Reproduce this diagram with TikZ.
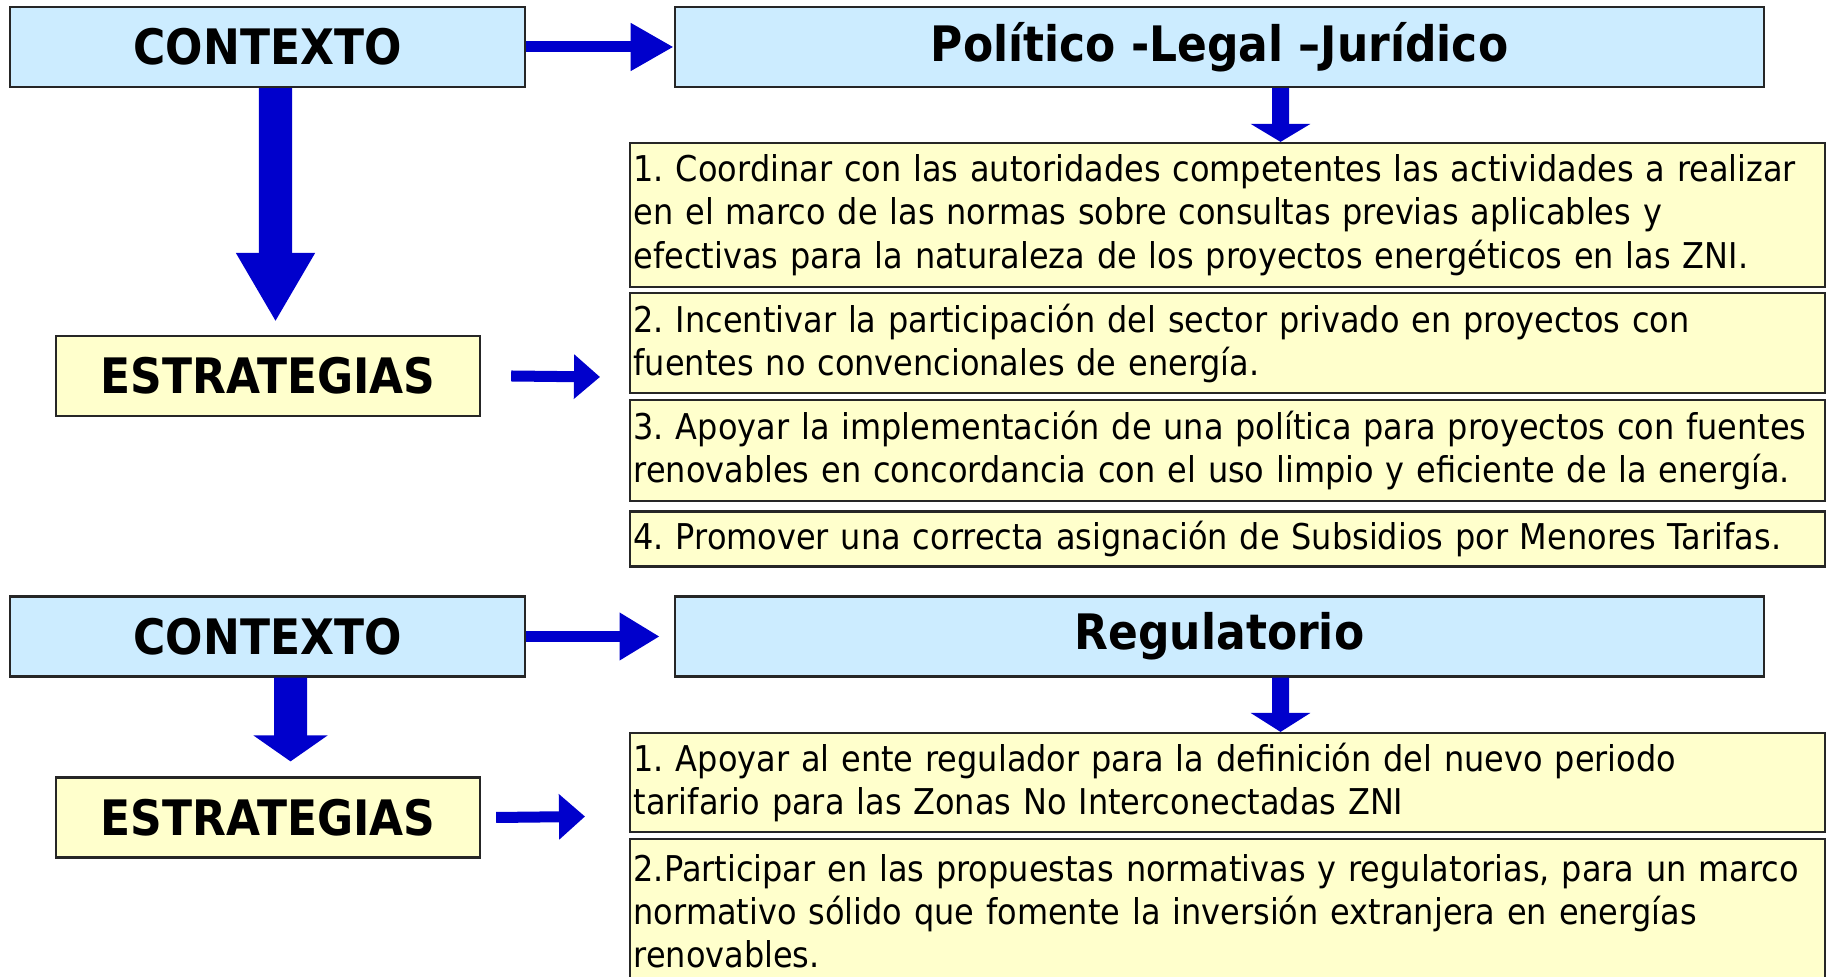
\documentclass[tikz,border=0pt]{standalone}
\usepackage{fontspec}
\setmainfont{DejaVu Sans}[FakeStretch=0.9]
\usepackage{xcolor}
\usetikzlibrary{arrows.meta,positioning,calc}
\definecolor{ctxblue}{HTML}{CCECFF}
\definecolor{stratyellow}{HTML}{FFFFCC}
\definecolor{arrowblue}{HTML}{0000CC}
\newcommand{\ItemFont}{\fontsize{10.1}{12.3}\selectfont\frenchspacing}
\newcommand{\HeadFont}{\fontsize{13.9}{15}\selectfont\bfseries}

\begin{document}
\begin{tikzpicture}[
			x=0.01cm, y=-0.01cm,
			headbox/.style={
				rectangle,
				draw=black!85,
				line width=0.6pt,
				fill=ctxblue,
				minimum height=0.8cm,
				inner sep=0pt,
				font=\HeadFont
			},
			stratbox/.style={
				rectangle,
				draw=black!85,
				line width=0.6pt,
				fill=stratyellow,
				minimum width=4.24cm,
				minimum height=0.8cm,
				inner sep=0pt,
				font=\HeadFont
			},
			itembox/.style={
				rectangle,
				draw=black!85,
				line width=0.6pt,
				fill=stratyellow,
				minimum width=11.95cm,
				text width=11.87cm,
				inner xsep=0.04cm,
				inner ysep=0pt,
				align=left,
				font=\ItemFont
			},
			blockarrow/.style n args={3}{
				draw=arrowblue,
				line width=#1,
				-{Triangle[width=#2, length=#3]}
			}
			]
			\useasboundingbox (0,0) rectangle (1833,977);
			% Political-legal context and its strategies
			\node[headbox, minimum width=5.15cm] (ctxpol) at (267.5,47) {CONTEXTO};
			\node[headbox, minimum width=10.89cm] (pol) at (1219.5,47) {Político -Legal –Jurídico};
			\node[stratbox] (estpol) at (268,376) {ESTRATEGIAS};
			\node[itembox, minimum height=1.44cm] (pol1) at (1227.5,215) {1. Coordinar con las autoridades competentes las actividades a realizar\\en el marco de las normas sobre consultas previas aplicables y\\efectivas para la naturaleza de los proyectos energéticos en las ZNI.};
			\node[itembox, minimum height=1.0cm, below=0.04cm of pol1] (pol2) {2. Incentivar la participación del sector privado en proyectos con\\fuentes no convencionales de energía.};
			\node[itembox, minimum height=1.01cm, below=0.05cm of pol2] (pol3) {3. Apoyar la implementación de una política para proyectos con fuentes\\renovables en concordancia con el uso limpio y eficiente de la energía.};
			\node[itembox, minimum height=0.55cm, below=0.08cm of pol3] (pol4) {4. Promover una correcta asignación de Subsidios por Menores Tarifas.};
			\coordinate (polpoint) at (600,377);
			\draw[blockarrow={0.11cm}{0.45cm}{0.43cm}] (ctxpol.east) -- (pol.west);
			\draw[blockarrow={0.33cm}{0.74cm}{0.69cm}] ([xshift=0.08cm]ctxpol.south) -- ([xshift=0.075cm, yshift=0.13cm]estpol.north);
			\draw[blockarrow={0.17cm}{0.59cm}{0.18cm}] ([xshift=0.61cm]pol.south) -- ([xshift=0.53cm]pol1.north);
			\draw[blockarrow={0.11cm}{0.43cm}{0.26cm}] ([xshift=0.3cm]estpol.east) -- (polpoint);
			% Regulatory context and its strategies
			\node[headbox, minimum width=5.15cm] (ctxreg) at (267.5,636.5) {CONTEXTO};
			\node[headbox, minimum width=10.89cm] (reg) at (1219.5,636.5) {Regulatorio};
			\node[stratbox] (estreg) at (268,817.5) {ESTRATEGIAS};
			\node[itembox, minimum height=0.99cm] (reg1) at (1227.5,782.5) {1. Apoyar al ente regulador para la definición del nuevo periodo\\tarifario para las Zonas No Interconectadas ZNI};
			\node[itembox, minimum height=1.44cm, below=0.05cm of reg1] (reg2) {2.Participar en las propuestas normativas y regulatorias, para un marco\\normativo sólido que fomente la inversión extranjera en energías\\renovables.};
			\coordinate (regpoint) at (585,816.5);
			\draw[blockarrow={0.11cm}{0.45cm}{0.40cm}] (ctxreg.east) -- ([xshift=-0.14cm]reg.west);
			\draw[blockarrow={0.33cm}{0.73cm}{0.26cm}] ([xshift=0.23cm]ctxreg.south) -- ([xshift=0.225cm, yshift=0.15cm]estreg.north);
			\draw[blockarrow={0.17cm}{0.59cm}{0.19cm}] ([xshift=0.61cm]reg.south) -- ([xshift=0.53cm]reg1.north);
			\draw[blockarrow={0.11cm}{0.44cm}{0.26cm}] ([xshift=0.15cm]estreg.east) -- (regpoint);
		\end{tikzpicture}
\end{document}
